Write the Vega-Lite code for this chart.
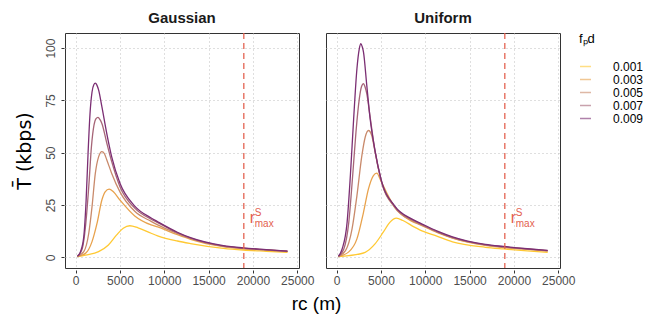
{
  "$schema": "https://vega.github.io/schema/vega-lite/v6.json",
  "padding": {"left": 15, "top": 11, "right": 2, "bottom": 2},
  "title": {"text": "rᴄ (m)", "orient": "bottom", "anchor": "middle", "frame": "bounds", "dx": -13, "fontSize": 19, "fontWeight": "normal", "font": "Liberation Sans", "color": "#000000", "offset": 9},
  "datasets": {
    "curves": [
      {"panel":"Gaussian","f":"0.001","x":200,"y":0.3},{"panel":"Gaussian","f":"0.001","x":1110,"y":1.1},{"panel":"Gaussian","f":"0.001","x":2590,"y":2.7},{"panel":"Gaussian","f":"0.001","x":3700,"y":5.9},{"panel":"Gaussian","f":"0.001","x":4630,"y":10.7},{"panel":"Gaussian","f":"0.001","x":5370,"y":13.9},{"panel":"Gaussian","f":"0.001","x":6110,"y":15.1},{"panel":"Gaussian","f":"0.001","x":7040,"y":14.1},{"panel":"Gaussian","f":"0.001","x":8520,"y":11.5},{"panel":"Gaussian","f":"0.001","x":9250,"y":10.3},{"panel":"Gaussian","f":"0.001","x":11480,"y":7.8},{"panel":"Gaussian","f":"0.001","x":12960,"y":6.6},{"panel":"Gaussian","f":"0.001","x":16670,"y":4.3},{"panel":"Gaussian","f":"0.001","x":18890,"y":3.5},{"panel":"Gaussian","f":"0.001","x":21500,"y":2.9},{"panel":"Gaussian","f":"0.001","x":23900,"y":2.4},
      {"panel":"Gaussian","f":"0.003","x":200,"y":0.5},{"panel":"Gaussian","f":"0.003","x":1110,"y":1.9},{"panel":"Gaussian","f":"0.003","x":1850,"y":7.5},{"panel":"Gaussian","f":"0.003","x":2410,"y":16.2},{"panel":"Gaussian","f":"0.003","x":2960,"y":27.4},{"panel":"Gaussian","f":"0.003","x":3330,"y":31.3},{"panel":"Gaussian","f":"0.003","x":3780,"y":32.6},{"panel":"Gaussian","f":"0.003","x":4260,"y":31.3},{"panel":"Gaussian","f":"0.003","x":5000,"y":27.4},{"panel":"Gaussian","f":"0.003","x":6670,"y":19.8},{"panel":"Gaussian","f":"0.003","x":8520,"y":15.5},{"panel":"Gaussian","f":"0.003","x":9260,"y":14.5},{"panel":"Gaussian","f":"0.003","x":11480,"y":10.8},{"panel":"Gaussian","f":"0.003","x":12960,"y":8.6},{"panel":"Gaussian","f":"0.003","x":16670,"y":5.1},{"panel":"Gaussian","f":"0.003","x":18890,"y":4.1},{"panel":"Gaussian","f":"0.003","x":21500,"y":3.4},{"panel":"Gaussian","f":"0.003","x":23900,"y":2.7},
      {"panel":"Gaussian","f":"0.005","x":200,"y":0.5},{"panel":"Gaussian","f":"0.005","x":920,"y":2.7},{"panel":"Gaussian","f":"0.005","x":1480,"y":11.5},{"panel":"Gaussian","f":"0.005","x":1850,"y":24.2},{"panel":"Gaussian","f":"0.005","x":2220,"y":40.1},{"panel":"Gaussian","f":"0.005","x":2590,"y":48},{"panel":"Gaussian","f":"0.005","x":2960,"y":50.5},{"panel":"Gaussian","f":"0.005","x":3250,"y":49.5},{"panel":"Gaussian","f":"0.005","x":3520,"y":46.5},{"panel":"Gaussian","f":"0.005","x":4070,"y":40.1},{"panel":"Gaussian","f":"0.005","x":5000,"y":31.3},{"panel":"Gaussian","f":"0.005","x":6670,"y":22},{"panel":"Gaussian","f":"0.005","x":8520,"y":17.2},{"panel":"Gaussian","f":"0.005","x":9260,"y":15.5},{"panel":"Gaussian","f":"0.005","x":11480,"y":11.4},{"panel":"Gaussian","f":"0.005","x":12960,"y":9},{"panel":"Gaussian","f":"0.005","x":16670,"y":5.3},{"panel":"Gaussian","f":"0.005","x":18890,"y":4.3},{"panel":"Gaussian","f":"0.005","x":21500,"y":3.5},{"panel":"Gaussian","f":"0.005","x":23900,"y":2.8},
      {"panel":"Gaussian","f":"0.007","x":200,"y":0.5},{"panel":"Gaussian","f":"0.007","x":740,"y":4},{"panel":"Gaussian","f":"0.007","x":1110,"y":14.6},{"panel":"Gaussian","f":"0.007","x":1480,"y":33.7},{"panel":"Gaussian","f":"0.007","x":1780,"y":52.8},{"panel":"Gaussian","f":"0.007","x":2070,"y":63.2},{"panel":"Gaussian","f":"0.007","x":2300,"y":66.3},{"panel":"Gaussian","f":"0.007","x":2520,"y":66.9},{"panel":"Gaussian","f":"0.007","x":2750,"y":65.8},{"panel":"Gaussian","f":"0.007","x":2960,"y":64},{"panel":"Gaussian","f":"0.007","x":3520,"y":54.5},{"panel":"Gaussian","f":"0.007","x":4070,"y":45.7},{"panel":"Gaussian","f":"0.007","x":5000,"y":33.7},{"panel":"Gaussian","f":"0.007","x":6670,"y":23.5},{"panel":"Gaussian","f":"0.007","x":8520,"y":18.2},{"panel":"Gaussian","f":"0.007","x":9260,"y":16.6},{"panel":"Gaussian","f":"0.007","x":11480,"y":11.7},{"panel":"Gaussian","f":"0.007","x":12960,"y":9.2},{"panel":"Gaussian","f":"0.007","x":16670,"y":5.4},{"panel":"Gaussian","f":"0.007","x":18890,"y":4.4},{"panel":"Gaussian","f":"0.007","x":21500,"y":3.6},{"panel":"Gaussian","f":"0.007","x":23900,"y":2.9},
      {"panel":"Gaussian","f":"0.009","x":200,"y":0.5},{"panel":"Gaussian","f":"0.009","x":550,"y":2.7},{"panel":"Gaussian","f":"0.009","x":920,"y":9.9},{"panel":"Gaussian","f":"0.009","x":1180,"y":27},{"panel":"Gaussian","f":"0.009","x":1400,"y":49.5},{"panel":"Gaussian","f":"0.009","x":1620,"y":68.5},{"panel":"Gaussian","f":"0.009","x":1850,"y":79},{"panel":"Gaussian","f":"0.009","x":2050,"y":82.5},{"panel":"Gaussian","f":"0.009","x":2220,"y":83.2},{"panel":"Gaussian","f":"0.009","x":2400,"y":82.3},{"panel":"Gaussian","f":"0.009","x":2590,"y":80},{"panel":"Gaussian","f":"0.009","x":2960,"y":72},{"panel":"Gaussian","f":"0.009","x":3520,"y":59},{"panel":"Gaussian","f":"0.009","x":4070,"y":48},{"panel":"Gaussian","f":"0.009","x":5000,"y":35.4},{"panel":"Gaussian","f":"0.009","x":6670,"y":24.5},{"panel":"Gaussian","f":"0.009","x":8520,"y":18.8},{"panel":"Gaussian","f":"0.009","x":9260,"y":17},{"panel":"Gaussian","f":"0.009","x":11480,"y":12},{"panel":"Gaussian","f":"0.009","x":12960,"y":9.4},{"panel":"Gaussian","f":"0.009","x":16670,"y":5.6},{"panel":"Gaussian","f":"0.009","x":18890,"y":4.5},{"panel":"Gaussian","f":"0.009","x":21500,"y":3.7},{"panel":"Gaussian","f":"0.009","x":23900,"y":3.0},
      {"panel":"Uniform","f":"0.001","x":200,"y":0.3},{"panel":"Uniform","f":"0.001","x":1370,"y":0.8},{"panel":"Uniform","f":"0.001","x":3220,"y":2.4},{"panel":"Uniform","f":"0.001","x":4330,"y":6.4},{"panel":"Uniform","f":"0.001","x":5260,"y":12},{"panel":"Uniform","f":"0.001","x":6000,"y":16.7},{"panel":"Uniform","f":"0.001","x":6740,"y":18.7},{"panel":"Uniform","f":"0.001","x":7480,"y":17.6},{"panel":"Uniform","f":"0.001","x":8780,"y":14.4},{"panel":"Uniform","f":"0.001","x":9370,"y":13.1},{"panel":"Uniform","f":"0.001","x":11370,"y":10},{"panel":"Uniform","f":"0.001","x":13070,"y":7.4},{"panel":"Uniform","f":"0.001","x":16780,"y":4.8},{"panel":"Uniform","f":"0.001","x":18810,"y":4.0},{"panel":"Uniform","f":"0.001","x":21500,"y":3.1},{"panel":"Uniform","f":"0.001","x":23810,"y":2.4},
      {"panel":"Uniform","f":"0.003","x":200,"y":0.4},{"panel":"Uniform","f":"0.003","x":1370,"y":2.6},{"panel":"Uniform","f":"0.003","x":2290,"y":8.8},{"panel":"Uniform","f":"0.003","x":3030,"y":21.5},{"panel":"Uniform","f":"0.003","x":3590,"y":32.7},{"panel":"Uniform","f":"0.003","x":4150,"y":39.1},{"panel":"Uniform","f":"0.003","x":4520,"y":40.2},{"panel":"Uniform","f":"0.003","x":5000,"y":36.5},{"panel":"Uniform","f":"0.003","x":5630,"y":31},{"panel":"Uniform","f":"0.003","x":6560,"y":24},{"panel":"Uniform","f":"0.003","x":8400,"y":17.4},{"panel":"Uniform","f":"0.003","x":9370,"y":15.6},{"panel":"Uniform","f":"0.003","x":11370,"y":11.8},{"panel":"Uniform","f":"0.003","x":13070,"y":9.2},{"panel":"Uniform","f":"0.003","x":16780,"y":5.7},{"panel":"Uniform","f":"0.003","x":18810,"y":4.7},{"panel":"Uniform","f":"0.003","x":21500,"y":3.8},{"panel":"Uniform","f":"0.003","x":23810,"y":3.0},
      {"panel":"Uniform","f":"0.005","x":200,"y":0.5},{"panel":"Uniform","f":"0.005","x":1000,"y":3.2},{"panel":"Uniform","f":"0.005","x":1740,"y":13.6},{"panel":"Uniform","f":"0.005","x":2290,"y":29.5},{"panel":"Uniform","f":"0.005","x":2850,"y":48.7},{"panel":"Uniform","f":"0.005","x":3220,"y":57.4},{"panel":"Uniform","f":"0.005","x":3590,"y":60.6},{"panel":"Uniform","f":"0.005","x":3960,"y":58.2},{"panel":"Uniform","f":"0.005","x":4330,"y":50.5},{"panel":"Uniform","f":"0.005","x":5000,"y":37},{"panel":"Uniform","f":"0.005","x":6560,"y":23.8},{"panel":"Uniform","f":"0.005","x":8400,"y":17.8},{"panel":"Uniform","f":"0.005","x":9370,"y":15.9},{"panel":"Uniform","f":"0.005","x":11370,"y":12},{"panel":"Uniform","f":"0.005","x":13070,"y":9.3},{"panel":"Uniform","f":"0.005","x":16780,"y":5.9},{"panel":"Uniform","f":"0.005","x":18810,"y":4.9},{"panel":"Uniform","f":"0.005","x":21500,"y":3.9},{"panel":"Uniform","f":"0.005","x":23810,"y":3.1},
      {"panel":"Uniform","f":"0.007","x":200,"y":0.5},{"panel":"Uniform","f":"0.007","x":810,"y":4},{"panel":"Uniform","f":"0.007","x":1370,"y":16.7},{"panel":"Uniform","f":"0.007","x":1810,"y":39.1},{"panel":"Uniform","f":"0.007","x":2180,"y":59.8},{"panel":"Uniform","f":"0.007","x":2560,"y":75.8},{"panel":"Uniform","f":"0.007","x":2800,"y":81.5},{"panel":"Uniform","f":"0.007","x":3030,"y":83},{"panel":"Uniform","f":"0.007","x":3200,"y":81.5},{"panel":"Uniform","f":"0.007","x":3400,"y":78.2},{"panel":"Uniform","f":"0.007","x":3780,"y":67},{"panel":"Uniform","f":"0.007","x":4330,"y":50.8},{"panel":"Uniform","f":"0.007","x":5000,"y":37.2},{"panel":"Uniform","f":"0.007","x":6560,"y":24.2},{"panel":"Uniform","f":"0.007","x":8400,"y":18.2},{"panel":"Uniform","f":"0.007","x":9370,"y":16.2},{"panel":"Uniform","f":"0.007","x":11370,"y":12.2},{"panel":"Uniform","f":"0.007","x":13070,"y":9.5},{"panel":"Uniform","f":"0.007","x":16780,"y":6},{"panel":"Uniform","f":"0.007","x":18810,"y":5},{"panel":"Uniform","f":"0.007","x":21500,"y":4},{"panel":"Uniform","f":"0.007","x":23810,"y":3.2},
      {"panel":"Uniform","f":"0.009","x":200,"y":0.5},{"panel":"Uniform","f":"0.009","x":620,"y":4},{"panel":"Uniform","f":"0.009","x":1180,"y":16.7},{"panel":"Uniform","f":"0.009","x":1550,"y":39.1},{"panel":"Uniform","f":"0.009","x":1920,"y":66.2},{"panel":"Uniform","f":"0.009","x":2290,"y":90.1},{"panel":"Uniform","f":"0.009","x":2550,"y":99.5},{"panel":"Uniform","f":"0.009","x":2740,"y":102.1},{"panel":"Uniform","f":"0.009","x":2900,"y":100.5},{"panel":"Uniform","f":"0.009","x":3030,"y":98.1},{"panel":"Uniform","f":"0.009","x":3400,"y":82.2},{"panel":"Uniform","f":"0.009","x":3780,"y":66.2},{"panel":"Uniform","f":"0.009","x":4330,"y":51},{"panel":"Uniform","f":"0.009","x":5000,"y":37.5},{"panel":"Uniform","f":"0.009","x":6560,"y":24.5},{"panel":"Uniform","f":"0.009","x":8400,"y":18.5},{"panel":"Uniform","f":"0.009","x":9370,"y":16.5},{"panel":"Uniform","f":"0.009","x":11370,"y":12.5},{"panel":"Uniform","f":"0.009","x":13070,"y":9.8},{"panel":"Uniform","f":"0.009","x":16780,"y":6.2},{"panel":"Uniform","f":"0.009","x":18810,"y":5.2},{"panel":"Uniform","f":"0.009","x":21500,"y":4.1},{"panel":"Uniform","f":"0.009","x":23810,"y":3.3},
      {"panel":"Gaussian","rmax":18970},
      {"panel":"Uniform","rmax":18970}
    ]
  },
  "data": {"name": "curves"},
  "facet": {
    "column": {
      "field": "panel", "type": "nominal", "sort": ["Gaussian", "Uniform"],
      "header": {"title": null, "labelFontSize": 15, "labelFontWeight": "bold", "labelFont": "Liberation Sans", "labelColor": "#1a1a1a", "labelPadding": 5}
    }
  },
  "spacing": 25,
  "spec": {
    "width": 234,
    "height": 235,
    "layer": [
      {
        "transform": [{"filter": "isValid(datum.y)"}],
        "mark": {"type": "line", "interpolate": "monotone", "strokeWidth": 1.3},
        "encoding": {
          "x": {"field": "x", "type": "quantitative",
            "scale": {"domain": [-1200, 25200], "nice": false, "zero": false},
            "axis": {"values": [0, 5000, 10000, 15000, 20000, 25000], "format": "d", "title": null, "labelFlush": false, "labelOverlap": false}},
          "y": {"field": "y", "type": "quantitative",
            "scale": {"domain": [-5.1, 107.2], "nice": false, "zero": false},
            "axis": {"values": [0, 25, 50, 75, 100], "title": "T̄ (kbps)", "titleFont": "DejaVu Sans", "titleFontSize": 19, "titlePadding": 10, "labelAngle": -90, "labelAlign": "center", "labelBaseline": "alphabetic", "labelPadding": 7}},
          "color": {"field": "f", "type": "ordinal",
            "scale": {"domain": ["0.001", "0.003", "0.005", "0.007", "0.009"], "range": ["#FFC933", "#E8A24D", "#C98A6B", "#A66577", "#7B2E73"]},
            "legend": {"title": "fₚd"}}
        }
      },
      {
        "transform": [{"filter": "isValid(datum.rmax)"}],
        "mark": {"type": "rule", "color": "#E3604F", "strokeDash": [6, 4], "strokeWidth": 1.5, "opacity": 0.85},
        "encoding": {"x": {"field": "rmax", "type": "quantitative"}}
      },
      {
        "transform": [{"filter": "isValid(datum.rmax)"}],
        "mark": {"type": "text", "text": "r", "align": "left", "baseline": "alphabetic", "dx": 6, "fontSize": 16, "font": "Liberation Sans", "color": "#E3604F"},
        "encoding": {"x": {"field": "rmax", "type": "quantitative"}, "y": {"datum": 16.4, "type": "quantitative"}}
      },
      {
        "transform": [{"filter": "isValid(datum.rmax)"}],
        "mark": {"type": "text", "text": "S", "align": "left", "baseline": "alphabetic", "dx": 11, "dy": -7, "fontSize": 10, "font": "Liberation Sans", "color": "#E3604F"},
        "encoding": {"x": {"field": "rmax", "type": "quantitative"}, "y": {"datum": 16.4, "type": "quantitative"}}
      },
      {
        "transform": [{"filter": "isValid(datum.rmax)"}],
        "mark": {"type": "text", "text": "max", "align": "left", "baseline": "alphabetic", "dx": 11, "dy": 3.5, "fontSize": 10, "font": "Liberation Sans", "color": "#E3604F"},
        "encoding": {"x": {"field": "rmax", "type": "quantitative"}, "y": {"datum": 16.4, "type": "quantitative"}}
      }
    ]
  },
  "config": {
    "view": {"stroke": "#333333", "strokeWidth": 1},
    "axis": {"grid": true, "gridColor": "#BFBFBF", "gridDash": [1, 3], "gridWidth": 1, "domain": false, "tickColor": "#333333", "tickSize": 3, "labelFont": "Liberation Sans", "labelFontSize": 12, "labelColor": "#4D4D4D", "labelPadding": 2, "titleFont": "Liberation Sans", "titleFontSize": 17, "titleFontWeight": "normal", "titleColor": "#000000"},
    "axisX": {"titlePadding": 6},
    "legend": {"orient": "right", "offset": 4, "titleFont": "Liberation Sans", "titleFontSize": 13, "titleFontWeight": "normal", "titleColor": "#000000", "labelFont": "Liberation Sans", "labelFontSize": 12, "labelColor": "#000000", "symbolType": "stroke", "symbolSize": 120, "symbolStrokeWidth": 1.5, "symbolOpacity": 0.6, "rowPadding": 0, "titlePadding": 14, "labelOffset": 21}
  }
}
